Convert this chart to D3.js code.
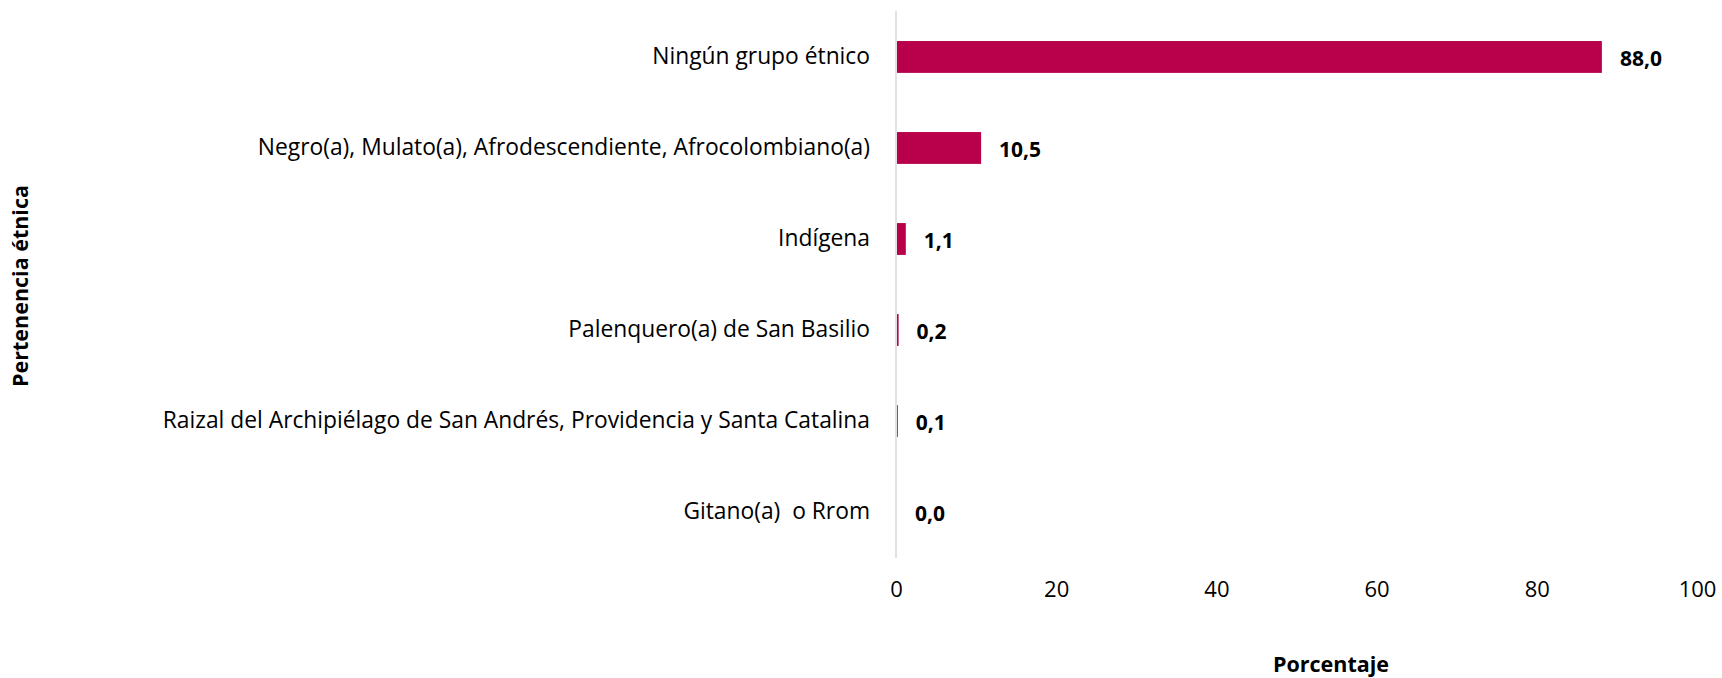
<!DOCTYPE html>
<html>
<head>
<meta charset="utf-8">
<script src="https://cdn.jsdelivr.net/npm/d3@7"></script>
<style>
  body { margin: 0; background: #fff; }
  svg { font-family: "Open Sans", sans-serif; }
</style>
</head>
<body>
<script>
// categorias (de arriba a abajo)
const categorias = [
  "Ningún grupo étnico",
  "Negro(a), Mulato(a), Afrodescendiente, Afrocolombiano(a)",
  "Indígena",
  "Palenquero(a) de San Basilio",
  "Raizal del Archipiélago de San Andrés, Providencia y Santa Catalina",
  "Gitano(a)  o Rrom"
];
// porcentaje por categoria
const porcentajes = [88.0, 10.5, 1.1, 0.2, 0.1, 0.0];
// ticks del eje x
const ticksX = [0, 20, 40, 60, 80, 100];

const width = 1722, height = 678;

const svg = d3.select('body').append('svg')
  .attr('width', width)
  .attr('height', height);

const x = d3.scaleLinear()
  .domain([0, 100])
  .range([896, 1697]);

const y = d3.scaleBand()
  .domain(categorias)
  .range([11, 558])
  .paddingInner(0.65)
  .paddingOuter(0.33);

// linea del eje vertical
svg.append('line')
  .attr('x1', x(0)).attr('x2', x(0))
  .attr('y1', 11).attr('y2', 558)
  .attr('stroke', '#d9d9d9')
  .attr('stroke-width', 1.5);

// barras
svg.selectAll('rect.bar')
  .data(porcentajes)
  .enter()
  .append('rect')
  .attr('class', 'bar')
  .attr('x', x(0) + 1)
  .attr('y', (d, i) => y(categorias[i]))
  .attr('width', d => x(d) - x(0))
  .attr('height', y.bandwidth())
  .attr('fill', '#b8004b');

// etiquetas de valor
svg.selectAll('text.valor')
  .data(porcentajes)
  .enter()
  .append('text')
  .attr('class', 'valor')
  .attr('x', d => x(d) + 19)
  .attr('y', (d, i) => y(categorias[i]) + y.bandwidth() / 2 + 2)
  .attr('dy', '0.35em')
  .style('font-size', '21px')
  .style('font-weight', 'bold')
  .text(d => d.toFixed(1).replace('.', ','));

// eje y (solo etiquetas)
const yAxis = svg.append('g')
  .attr('transform', `translate(${x(0)},0)`)
  .call(d3.axisLeft(y).tickSize(0).tickPadding(26));
yAxis.select('.domain').remove();
yAxis.selectAll('text')
  .style('font-size', '22.8px')
  .style('font-family', '"Open Sans", sans-serif')
  .style('white-space', 'pre')
  .attr('fill', '#000');

// eje x (solo etiquetas)
const xAxis = svg.append('g')
  .attr('transform', 'translate(0,581)')
  .call(d3.axisBottom(x).tickValues(ticksX).tickSize(0).tickPadding(0));
xAxis.select('.domain').remove();
xAxis.selectAll('text')
  .style('font-size', '22px')
  .style('font-family', '"Open Sans", sans-serif')
  .attr('fill', '#000');

// titulo eje x
svg.append('text')
  .attr('x', 1331)
  .attr('y', 664)
  .attr('dy', '0.35em')
  .style('text-anchor', 'middle')
  .style('font-size', '21.5px')
  .style('font-weight', 'bold')
  .text('Porcentaje');

// titulo eje y
svg.append('text')
  .attr('transform', 'translate(20,286) rotate(-90)')
  .attr('dy', '0.35em')
  .style('text-anchor', 'middle')
  .style('font-size', '21.5px')
  .style('font-weight', 'bold')
  .text('Pertenencia étnica');
</script>
</body>
</html>
